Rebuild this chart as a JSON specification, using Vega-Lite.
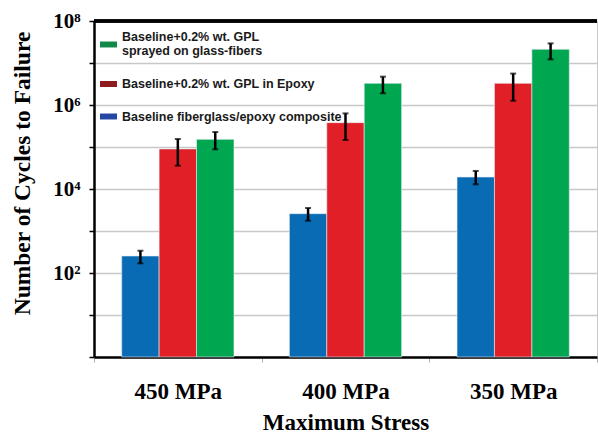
{
  "$schema": "https://vega.github.io/schema/vega-lite/v6.json",
  "autosize": {"type": "none"},
  "width": 503,
  "height": 336,
  "padding": {"left": 94, "top": 21, "right": 1, "bottom": 78},
  "config": {
    "view": {"stroke": "#c8c8c8", "strokeWidth": 1},
    "font": "Liberation Serif"
  },
  "data": {
    "values": [
      {"stress": "450 MPa", "series": "Baseline fiberglass/epoxy composite", "cycles": 254, "lo": 170, "hi": 339},
      {"stress": "450 MPa", "series": "Baseline+0.2% wt. GPL in Epoxy", "cycles": 90000, "lo": 35900, "hi": 155000},
      {"stress": "450 MPa", "series": "Baseline+0.2% wt. GPL sprayed on glass-fibers", "cycles": 152000, "lo": 88100, "hi": 227500},
      {"stress": "400 MPa", "series": "Baseline fiberglass/epoxy composite", "cycles": 2590, "lo": 1760, "hi": 3530},
      {"stress": "400 MPa", "series": "Baseline+0.2% wt. GPL in Epoxy", "cycles": 380000, "lo": 147000, "hi": 631000},
      {"stress": "400 MPa", "series": "Baseline+0.2% wt. GPL sprayed on glass-fibers", "cycles": 3280000, "lo": 1900000, "hi": 4730000},
      {"stress": "350 MPa", "series": "Baseline fiberglass/epoxy composite", "cycles": 19300, "lo": 12900, "hi": 26900},
      {"stress": "350 MPa", "series": "Baseline+0.2% wt. GPL in Epoxy", "cycles": 3280000, "lo": 1260000, "hi": 5600000},
      {"stress": "350 MPa", "series": "Baseline+0.2% wt. GPL sprayed on glass-fibers", "cycles": 21200000, "lo": 12200000, "hi": 29300000}
    ]
  },
  "layer": [
    {
      "mark": {"type": "bar", "stroke": "#e6eef6", "strokeWidth": 0.6},
      "encoding": {
        "x": {
          "field": "stress", "type": "nominal", "sort": ["450 MPa", "400 MPa", "350 MPa"],
          "scale": {"paddingInner": 0, "paddingOuter": 0},
          "axis": {
            "title": "Maximum Stress", "labelAngle": 0, "tickBand": "extent",
            "domainColor": "#000000", "domainWidth": 2.5,
            "tickColor": "#b0b0b0", "tickSize": 5, "tickWidth": 1,
            "labelFont": "Liberation Serif", "labelFontWeight": "bold", "labelFontSize": 23, "labelColor": "#000000",
            "labelPadding": 18,
            "titleFont": "Liberation Serif", "titleFontWeight": "bold", "titleFontSize": 23, "titleColor": "#000000",
            "titlePadding": 8
          }
        },
        "xOffset": {
          "field": "series", "type": "nominal",
          "sort": ["Baseline fiberglass/epoxy composite", "Baseline+0.2% wt. GPL in Epoxy", "Baseline+0.2% wt. GPL sprayed on glass-fibers"],
          "scale": {"paddingInner": 0, "paddingOuter": 0.74}
        },
        "y": {
          "field": "cycles", "type": "quantitative",
          "scale": {"type": "log", "domain": [1, 100000000], "nice": false},
          "axis": {
            "title": "Number of Cycles to Failure",
            "values": [1, 10, 100, 1000, 10000, 100000, 1000000, 10000000, 100000000],
            "labelExpr": "datum.value == 1e8 ? '10⁸' : datum.value == 1e6 ? '10⁶' : datum.value == 1e4 ? '10⁴' : datum.value == 100 ? '10²' : ''",
            "grid": true, "gridColor": "#c8c8c8", "gridWidth": 1.5,
            "domainColor": "#000000", "domainWidth": 2.5,
            "tickColor": "#000000", "tickSize": 5, "tickWidth": 1.5,
            "labelFont": "Liberation Serif", "labelFontWeight": "bold", "labelFontSize": 21, "labelColor": "#000000",
            "labelPadding": 9,
            "titleFont": "Liberation Serif", "titleFontWeight": "bold", "titleFontSize": 23.5, "titleColor": "#000000",
            "titlePadding": 18, "titleY": 152
          }
        },
        "y2": {"datum": 1},
        "color": {
          "field": "series", "type": "nominal",
          "scale": {
            "domain": ["Baseline fiberglass/epoxy composite", "Baseline+0.2% wt. GPL in Epoxy", "Baseline+0.2% wt. GPL sprayed on glass-fibers"],
            "range": ["#0a6bb5", "#e01f27", "#00a650"]
          },
          "legend": null
        }
      }
    },
    {
      "mark": {"type": "point", "filled": true, "opacity": 0},
      "encoding": {
        "x": {"field": "stress", "type": "nominal", "sort": ["450 MPa", "400 MPa", "350 MPa"]},
        "xOffset": {"field": "series", "type": "nominal", "sort": ["Baseline fiberglass/epoxy composite", "Baseline+0.2% wt. GPL in Epoxy", "Baseline+0.2% wt. GPL sprayed on glass-fibers"]},
        "y": {"field": "cycles", "type": "quantitative"},
        "fill": {
          "field": "series", "type": "nominal",
          "scale": {
            "domain": ["Baseline+0.2% wt. GPL sprayed on glass-fibers", "Baseline+0.2% wt. GPL in Epoxy", "Baseline fiberglass/epoxy composite"],
            "range": ["#128a47", "#8e1b1f", "#2347a3"]
          },
          "legend": {
            "title": null, "orient": "none", "legendX": 6, "legendY": 7, "padding": 0,
            "symbolSize": 289, "symbolStrokeWidth": 0, "symbolOpacity": 1,
            "labelFont": "Liberation Sans", "labelFontWeight": "bold", "labelFontSize": 12.5, "labelColor": "#1a1a1a",
            "labelOffset": 5, "labelLimit": 400, "rowPadding": 17.5,
            "labelExpr": "datum.label == 'Baseline+0.2% wt. GPL sprayed on glass-fibers' ? ['Baseline+0.2% wt. GPL', 'sprayed on glass-fibers'] : datum.label"
          }
        },
        "shape": {
          "field": "series", "type": "nominal",
          "scale": {
            "domain": ["Baseline+0.2% wt. GPL sprayed on glass-fibers", "Baseline+0.2% wt. GPL in Epoxy", "Baseline fiberglass/epoxy composite"],
            "range": ["M-1,0.59H1V1.29H-1Z", "M-1,-0.35H1V0.35H-1Z", "M-1,-0.35H1V0.35H-1Z"]
          },
          "legend": {
            "title": null, "orient": "none", "legendX": 6, "legendY": 7, "padding": 0,
            "symbolSize": 289, "symbolStrokeWidth": 0, "symbolOpacity": 1,
            "labelFont": "Liberation Sans", "labelFontWeight": "bold", "labelFontSize": 12.5, "labelColor": "#1a1a1a",
            "labelOffset": 5, "labelLimit": 400, "rowPadding": 17.5,
            "labelExpr": "datum.label == 'Baseline+0.2% wt. GPL sprayed on glass-fibers' ? ['Baseline+0.2% wt. GPL', 'sprayed on glass-fibers'] : datum.label"
          }
        }
      }
    },
    {
      "mark": {"type": "rule", "color": "#000000", "strokeWidth": 2.5},
      "encoding": {
        "x": {"field": "stress", "type": "nominal", "sort": ["450 MPa", "400 MPa", "350 MPa"]},
        "xOffset": {"field": "series", "type": "nominal", "sort": ["Baseline fiberglass/epoxy composite", "Baseline+0.2% wt. GPL in Epoxy", "Baseline+0.2% wt. GPL sprayed on glass-fibers"]},
        "y": {"field": "lo", "type": "quantitative"},
        "y2": {"field": "hi"}
      }
    },
    {
      "mark": {"type": "tick", "color": "#000000", "thickness": 2, "size": 6},
      "encoding": {
        "x": {"field": "stress", "type": "nominal", "sort": ["450 MPa", "400 MPa", "350 MPa"]},
        "xOffset": {"field": "series", "type": "nominal", "sort": ["Baseline fiberglass/epoxy composite", "Baseline+0.2% wt. GPL in Epoxy", "Baseline+0.2% wt. GPL sprayed on glass-fibers"]},
        "y": {"field": "lo", "type": "quantitative"}
      }
    },
    {
      "mark": {"type": "tick", "color": "#000000", "thickness": 2, "size": 6},
      "encoding": {
        "x": {"field": "stress", "type": "nominal", "sort": ["450 MPa", "400 MPa", "350 MPa"]},
        "xOffset": {"field": "series", "type": "nominal", "sort": ["Baseline fiberglass/epoxy composite", "Baseline+0.2% wt. GPL in Epoxy", "Baseline+0.2% wt. GPL sprayed on glass-fibers"]},
        "y": {"field": "hi", "type": "quantitative"}
      }
    },
    {
      "mark": {"type": "rule", "color": "#000000", "strokeWidth": 2.5},
      "encoding": {"y": {"datum": 100000000}}
    }
  ]
}
